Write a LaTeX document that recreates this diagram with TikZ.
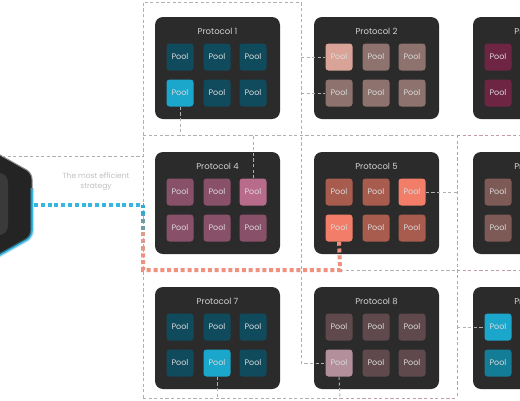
\documentclass[tikz,border=0pt]{standalone}
\usepackage{fontspec}
\setmainfont{Poppins}
\definecolor{boxc}{HTML}{2B2B2B}
\definecolor{titlec}{HTML}{D2D2D2}
\definecolor{pooltxt}{HTML}{DADADA}
\definecolor{graydash}{HTML}{B0B0B0}
\definecolor{pinkdash}{HTML}{C49CA5}
\definecolor{cyandot}{HTML}{38B6E0}
\definecolor{salmondot}{HTML}{F0907F}
\definecolor{tealD}{HTML}{0F4B5C}
\definecolor{cyanB}{HTML}{1BA6CB}
\definecolor{tealM}{HTML}{137C96}
\definecolor{mauveA}{HTML}{8E726E}
\definecolor{mauveAH}{HTML}{D9A497}
\definecolor{wine}{HTML}{6E2443}
\definecolor{plum}{HTML}{89506A}
\definecolor{plumH}{HTML}{B96B8C}
\definecolor{terra}{HTML}{A85C4E}
\definecolor{terraH}{HTML}{F27E69}
\definecolor{brownA}{HTML}{7D5A55}
\definecolor{mauveB}{HTML}{5F494D}
\definecolor{mauveBH}{HTML}{B38F9B}
\definecolor{hexfill}{HTML}{242424}
\definecolor{hexinner}{HTML}{3A3A3A}
\tikzset{
  boxst/.style={draw=none,fill=boxc,rounded corners=8pt,minimum width=125pt,minimum height=102pt,inner sep=0pt},
  titlest/.style={text=titlec,font=\fontsize{8.5}{10}\selectfont,inner sep=0pt},
  poolst/.style={minimum size=27pt,inner sep=0pt,rounded corners=3pt,text=pooltxt,font=\fontsize{8}{9}\selectfont},
  gdash/.style={draw=graydash,line width=0.9pt,dash pattern=on 3.2pt off 2.4pt},
  pdash/.style={draw=pinkdash,line width=1pt,dash pattern=on 3.2pt off 2.4pt},
  cdot/.style={draw=cyandot,line width=4pt,dash pattern=on 4pt off 2.8pt},
  sdot/.style={draw=salmondot,line width=4pt,dash pattern=on 4pt off 2.8pt},
  notest/.style={text=graydash!80!white,font=\fontsize{7.5}{10}\selectfont,align=center,inner sep=0pt}
}
\newcommand\protob[4]{%
  \node[boxst] (box#1) at (#2+62.5,#3+51) {};
  \node[titlest] (title#1) at (#2+62.5,#3+14) {#4};}
\newcommand\poolsix[9]{%
  \node[poolst,fill=#4] (p#1a1) at (#2+25,#3+40) {Pool};
  \node[poolst,fill=#5] (p#1a2) at (#2+62,#3+40) {Pool};
  \node[poolst,fill=#6] (p#1a3) at (#2+98,#3+40) {Pool};
  \node[poolst,fill=#7] (p#1b1) at (#2+25,#3+76) {Pool};
  \node[poolst,fill=#8] (p#1b2) at (#2+62,#3+76) {Pool};
  \node[poolst,fill=#9] (p#1b3) at (#2+98,#3+76) {Pool};}
\begin{document}
\begin{tikzpicture}[x=1pt,y=-1pt]
\useasboundingbox (0,0) rectangle (520,400);
\clip (0,0) rectangle (520,400);
\fill[white] (0,0) rectangle (520,400);

% hexagon
\fill[hexfill,rounded corners=6pt] (-23,142) -- (32,173) -- (32,237) -- (-23,268) -- (-78,237) -- (-78,173) -- cycle;
\draw[cyandot,opacity=0.35,line width=4pt,rounded corners=6pt] (32,188) -- (32,237) -- (-23,268);
\draw[cyandot,line width=1.5pt,rounded corners=6pt] (32,188) -- (32,237) -- (-23,268);
\draw[graydash!80!black,line width=1pt,rounded corners=6pt] (-23,142) -- (32,173) -- (32,190);
\fill[hexinner,rounded corners=9pt] (-45,173) rectangle (8,235);
\coordinate (hexT) at (2,156);
\coordinate (hexR) at (34,205);

% note
\node[notest] (note) at (96,182) {The most efficient\\strategy};

% corner coordinates
\coordinate (L2) at (143,2);
\coordinate (R2) at (301,2);
\coordinate (Lmid) at (143,156);
\coordinate (Ltop) at (143,135);
\coordinate (Rtop) at (520,135);
\coordinate (Lbot) at (143,398);
\coordinate (Mbot) at (340,398);
\coordinate (Rbot) at (457,398);
\coordinate (Vtop) at (457,135);
\coordinate (Cyj) at (143,205);
\coordinate (Sj) at (143,270);
\coordinate (Sk) at (340,270);
\coordinate (Hr) at (520,270);

% protocol boxes
\protob{1}{155}{17}{Protocol 1}
\protob{2}{314}{17}{Protocol 2}
\protob{3}{473}{17}{Protocol 3}
\protob{4}{155}{152}{Protocol 4}
\protob{5}{314}{152}{Protocol 5}
\protob{6}{473}{152}{Protocol 6}
\protob{7}{155}{287}{Protocol 7}
\protob{8}{314}{287}{Protocol 8}
\protob{9}{473}{287}{Protocol 9}

\poolsix{1}{155}{17}{tealD}{tealD}{tealD}{cyanB}{tealD}{tealD}
\poolsix{2}{314}{17}{mauveAH}{mauveA}{mauveA}{mauveA}{mauveA}{mauveA}
\poolsix{3}{473}{17}{wine}{wine}{wine}{wine}{wine}{wine}
\poolsix{4}{155}{152}{plum}{plum}{plumH}{plum}{plum}{plum}
\poolsix{5}{314}{152}{terra}{terra}{terraH}{terraH}{terra}{terra}
\poolsix{6}{473}{152}{brownA}{brownA}{brownA}{brownA}{brownA}{brownA}
\poolsix{7}{155}{287}{tealD}{tealD}{tealD}{tealD}{cyanB}{tealD}
\poolsix{8}{314}{287}{mauveB}{mauveB}{mauveB}{mauveBH}{mauveB}{mauveB}
\poolsix{9}{473}{287}{cyanB}{tealD}{tealD}{tealM}{tealD}{tealD}

% thin dashed connectors
\draw[gdash] (hexT) -- (Lmid);
\draw[gdash] (Lbot) -- (L2) -- (R2) -- (R2 |- p8b1.west) -- (p8b1.west);
\draw[gdash] (R2 |- p2a1.west) -- (p2a1.west);
\draw[gdash] (R2 |- p2b1.west) -- (p2b1.west);
\draw[gdash] (p1b1.south) -- (p1b1.south |- Ltop);
\draw[gdash] (Ltop) -- (Vtop);
\draw[pdash] (Vtop) -- (Rtop);
\draw[gdash] (p4a3.north) -- (p4a3.north |- Ltop);
\draw[gdash] (p5a3.east) -- (p5a3.east -| Vtop);
\draw[pdash] (Vtop) -- (Rbot);
\draw[gdash] (Sk) -- (Vtop |- Sk);
\draw[pdash] (Vtop |- Sk) -- (Hr);
\draw[gdash] (Lbot) -- (Mbot);
\draw[pdash] (Mbot) -- (Rbot);
\draw[gdash] (p7b2.south) -- (p7b2.south |- Lbot);
\draw[gdash] (p8b1.south) -- (Mbot);
\draw[gdash] (Vtop |- p9a1.west) -- (p9a1.west);

% thick dotted routes
\draw[cdot] (hexR) -- (Cyj);
\draw[sdot] (p5b1.south) -- (Sk) -- (Sj) -- (143,250);
\draw[draw=salmondot!70!graydash,line width=4pt,dash pattern=on 4pt off 2.8pt] (143,250) -- (143,230);
\draw[draw=graydash!60!tealM,line width=4pt,dash pattern=on 4pt off 2.8pt] (143,230) -- (143,215);
\draw[draw=cyandot!80!tealM,line width=4pt,dash pattern=on 4pt off 2.8pt] (143,215) -- (Cyj);
\end{tikzpicture}
\end{document}
